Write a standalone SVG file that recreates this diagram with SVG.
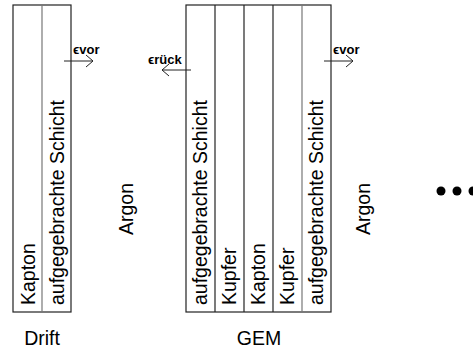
<svg xmlns="http://www.w3.org/2000/svg" width="473" height="354" viewBox="0 0 473 354">
<style>
.frame{fill:#fff;stroke:#222;stroke-width:1.2}
.div{stroke:#222;stroke-width:1.2}
.divg{stroke:#777;stroke-width:1.2}
.t{font-family:"Liberation Sans",Arial,sans-serif;font-size:19.5px;fill:#000}
.e{font-family:"Liberation Sans","DejaVu Sans",Arial,sans-serif;font-size:13px;font-weight:bold;fill:#000}
.arr{stroke:#222;stroke-width:1;fill:none;marker-end:url(#head)}
</style>
<defs>
<marker id="head" markerWidth="10" markerHeight="14" refX="8" refY="7" orient="auto" markerUnits="userSpaceOnUse">
<path d="M1,1 L8,7 L1,13" fill="none" stroke="#222" stroke-width="1"/>
</marker>
</defs>
<g id="drift">
<rect class="frame" x="13" y="5" width="58" height="307"/>
<line class="divg" x1="42" y1="5" x2="42" y2="312"/>
<text class="t" transform="translate(35,305) rotate(-90)">Kapton</text>
<text class="t" transform="translate(64,305) rotate(-90)">aufgegebrachte Schicht</text>
<text class="t" x="42" y="345" text-anchor="middle">Drift</text>
</g>
<g id="argon1">
<text class="t" transform="translate(133,209) rotate(-90)" text-anchor="middle">Argon</text>
</g>
<g id="gem">
<rect class="frame" x="186" y="5" width="145" height="307"/>
<line class="div" x1="215" y1="5" x2="215" y2="312"/>
<line class="div" x1="244" y1="5" x2="244" y2="312"/>
<line class="div" x1="273" y1="5" x2="273" y2="312"/>
<line class="divg" x1="302" y1="5" x2="302" y2="312"/>
<text class="t" transform="translate(207,305) rotate(-90)">aufgegebrachte Schicht</text>
<text class="t" transform="translate(236,305) rotate(-90)">Kupfer</text>
<text class="t" transform="translate(265,305) rotate(-90)">Kapton</text>
<text class="t" transform="translate(294,305) rotate(-90)">Kupfer</text>
<text class="t" transform="translate(323,305) rotate(-90)">aufgegebrachte Schicht</text>
<text class="t" x="259" y="345" text-anchor="middle">GEM</text>
</g>
<g id="argon2">
<text class="t" transform="translate(370,209) rotate(-90)" text-anchor="middle">Argon</text>
</g>
<g id="dots">
<circle cx="441" cy="191" r="4.5"/>
<circle cx="457" cy="191" r="4.5"/>
<circle cx="473" cy="191" r="4.5"/>
</g>
<g id="connectors">
<line class="arr" x1="64" y1="61" x2="93" y2="61"/>
<text class="e" x="73" y="54">ϵvor</text>
<line class="arr" x1="191" y1="70" x2="162" y2="70"/>
<text class="e" x="148" y="64">ϵrück</text>
<line class="arr" x1="324" y1="61" x2="353" y2="61"/>
<text class="e" x="333" y="54">ϵvor</text>
</g>
</svg>
